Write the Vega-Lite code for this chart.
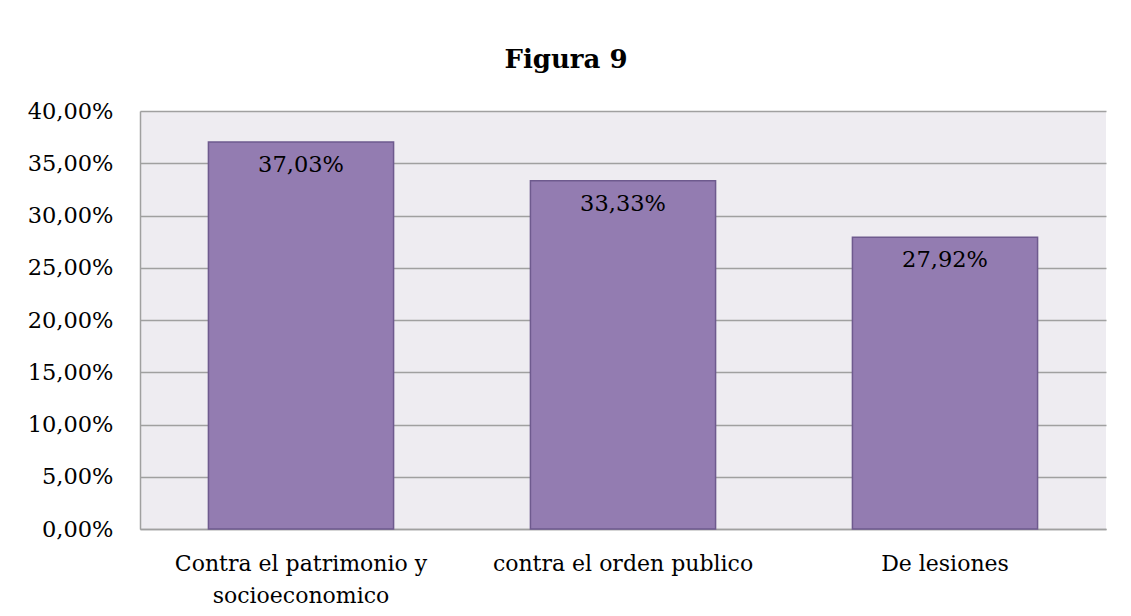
{
  "$schema": "https://vega.github.io/schema/vega-lite/v6.json",
  "width": 966,
  "height": 418,
  "padding": {"left": 27, "top": 47, "right": 24, "bottom": 6},
  "background": "white",
  "title": {"text": "Figura 9", "font": "DejaVu Serif", "fontSize": 26, "fontWeight": "bold", "color": "#000000", "anchor": "middle", "dx": -57, "offset": 27},
  "config": {
    "locale": {"number": {"decimal": ",", "thousands": ".", "grouping": [3], "currency": ["", " €"]}},
    "font": "DejaVu Serif",
    "view": {"stroke": null, "fill": "#EEECF1"},
    "axis": {"labelFont": "DejaVu Serif", "labelFontSize": 22.5, "labelColor": "#000000", "domainColor": "#A0A0A0", "gridColor": "#A0A0A0", "gridOpacity": 1, "gridWidth": 1.5, "domainWidth": 1.5, "ticks": false, "title": null, "labelLimit": 500}
  },
  "data": {"values": [
    {"categoria": "Contra el patrimonio y socioeconomico", "valor": 0.3703},
    {"categoria": "contra el orden publico", "valor": 0.3333},
    {"categoria": "De lesiones", "valor": 0.2792}
  ]},
  "encoding": {
    "x": {"field": "categoria", "type": "nominal", "sort": null,
      "scale": {"paddingInner": 0.425, "paddingOuter": 0.2125},
      "axis": {"labelAngle": 0, "labelPadding": 24, "labelLineHeight": 32, "grid": false, "labelFontSize": 22,
        "labelExpr": "datum.label == 'Contra el patrimonio y socioeconomico' ? ['Contra el patrimonio y', 'socioeconomico'] : datum.label"}},
    "y": {"field": "valor", "type": "quantitative",
      "scale": {"domain": [0, 0.4]},
      "axis": {"values": [0, 0.05, 0.1, 0.15, 0.2, 0.25, 0.3, 0.35, 0.4], "labelPadding": 27, "format": ".2%"}}
  },
  "layer": [
    {"mark": {"type": "bar", "fill": "#937CB1", "stroke": "#6E5A8E", "strokeWidth": 1.5}},
    {"mark": {"type": "text", "baseline": "top", "dy": 12, "fontSize": 22.5, "color": "#000000", "font": "DejaVu Serif"},
      "encoding": {"text": {"field": "valor", "type": "quantitative", "format": ".2%"}}}
  ]
}
